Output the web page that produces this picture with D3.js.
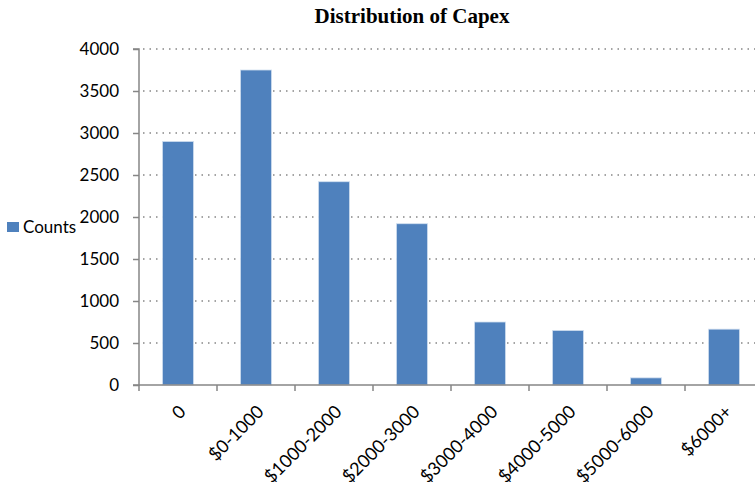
<!DOCTYPE html>
<meta charset="utf-8">
<style>
 body { margin: 0; background: #fff; }
 .tick text { font-family: Lato, 'Open Sans', sans-serif; font-size: 17px; fill: #000; }
 .grid line { stroke: #868686; stroke-dasharray: 1.5,5; stroke-width: 1.5; }
</style>
<body>
<script src="https://cdn.jsdelivr.net/npm/d3@7"></script>
<script>

 var categories = ["0", "$0-1000", "$1000-2000", "$2000-3000", "$3000-4000", "$4000-5000", "$5000-6000", "$6000+"];
 var counts = [2900, 3750, 2420, 1920, 750, 650, 85, 665];
 var yTicks = [0, 500, 1000, 1500, 2000, 2500, 3000, 3500, 4000];

 var data = categories.map(function(c, i) { return {cat: c, value: counts[i]}; });

 var width = 755, height = 482;
 var x0 = 139, x1 = 763, yTop = 49, yBottom = 385;

 var svg = d3.select("body").append("svg")
             .attr("width", width)
             .attr("height", height);

 var xScale = d3.scaleBand()
                .domain(categories)
                .range([x0, x1])
                .paddingInner(0.6)
                .paddingOuter(0.3);

 var yScale = d3.scaleLinear()
                .domain([0, 4000])
                .range([yBottom, yTop]);

 // dotted gridlines
 svg.append("g")
    .attr("class", "grid")
    .selectAll("line")
    .data(yTicks.filter(d => d > 0))
    .enter().append("line")
    .attr("x1", x0 + 4)
    .attr("x2", width)
    .attr("y1", d => yScale(d))
    .attr("y2", d => yScale(d));

 // bars
 svg.append("g")
    .selectAll("rect")
    .data(data)
    .enter().append("rect")
    .attr("x", d => xScale(d.cat))
    .attr("y", d => yScale(d.value))
    .attr("width", xScale.bandwidth())
    .attr("height", d => yBottom - yScale(d.value))
    .attr("fill", "#4f81bd")
    .attr("stroke", "#d3e0f0")
    .attr("stroke-width", 0.8);

 // y axis
 var gY = svg.append("g")
             .attr("transform", "translate(" + x0 + ",0)")
             .call(d3.axisLeft(yScale).tickValues(yTicks).tickSize(6).tickPadding(14).tickFormat(d3.format("d")));
 gY.selectAll("path, line").attr("stroke", "#868686").attr("stroke-width", 1.5);
 gY.select(".domain").attr("d", "M-6," + yBottom + "H0V" + yTop + "H-6");

 // x axis: ticks at band boundaries
 var bounds = d3.range(categories.length + 1).map(i => x0 + i * (x1 - x0) / categories.length);
 svg.append("line")
    .attr("x1", x0).attr("x2", x1)
    .attr("y1", yBottom).attr("y2", yBottom)
    .attr("stroke", "#868686").attr("stroke-width", 1.5);
 svg.append("g").selectAll("line")
    .data(bounds)
    .enter().append("line")
    .attr("x1", d => d).attr("x2", d => d)
    .attr("y1", yBottom).attr("y2", yBottom + 6)
    .attr("stroke", "#868686").attr("stroke-width", 1.5);

 svg.append("g").selectAll("text")
    .data(categories)
    .enter().append("text")
    .attr("transform", d => "translate(" + (xScale(d) + xScale.bandwidth() / 2) + "," + (yBottom + 19) + ")rotate(-45)")
    .attr("text-anchor", "end")
    .attr("dy", "0.7em")
    .style("font-family", "Lato, 'Open Sans', sans-serif")
    .style("font-size", "18px")
    .text(d => d);

 // title
 svg.append("text")
    .attr("x", 412)
    .attr("y", 23)
    .attr("text-anchor", "middle")
    .style("font-family", "'Liberation Serif', 'Times New Roman', serif")
    .style("font-weight", "bold")
    .style("font-size", "21px")
    .text("Distribution of Capex");

 // legend
 svg.append("rect")
    .attr("x", 7).attr("y", 222)
    .attr("width", 12).attr("height", 10)
    .attr("fill", "#4f81bd");
 svg.append("text")
    .attr("x", 23).attr("y", 233)
    .style("font-family", "Lato, 'Open Sans', sans-serif")
    .style("font-size", "17px")
    .text("Counts");

</script>
